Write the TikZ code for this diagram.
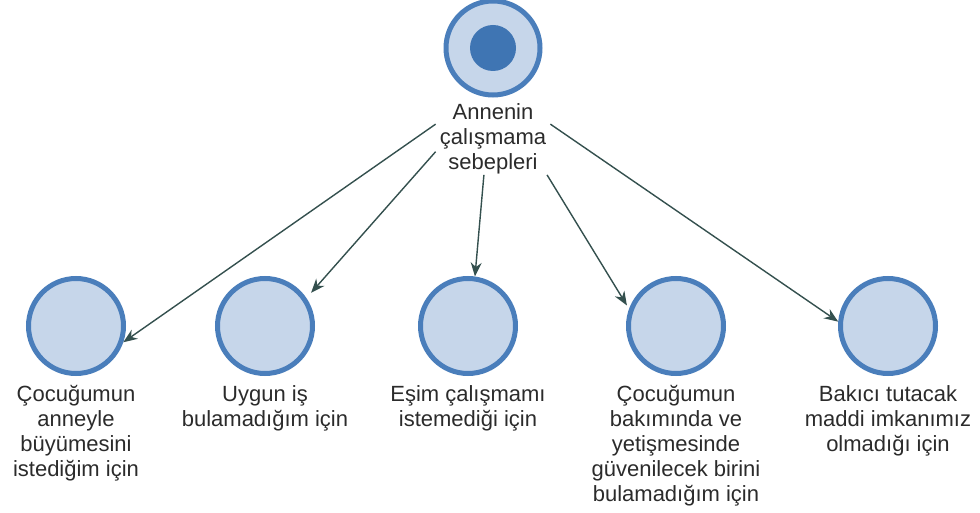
\documentclass[tikz,border=0pt]{standalone}
\usepackage{fontspec}
\setmainfont{Liberation Sans}
\usetikzlibrary{arrows.meta}
\definecolor{ringblue}{HTML}{4A7EBB}
\definecolor{fillblue}{HTML}{C6D6EA}
\definecolor{dotblue}{HTML}{3F75B3}
\definecolor{arrowcol}{HTML}{34504E}
\definecolor{txtcol}{HTML}{2B2B2B}
\tikzset{
  bubble/.style={circle, draw=ringblue, fill=fillblue, line width=5pt, minimum size=95pt, inner sep=0pt},
  dot/.style={circle, fill=dotblue, minimum size=46pt, inner sep=0pt},
  lbl/.style={align=center, anchor=north, text=txtcol, inner xsep=4pt, inner ysep=1pt,
    font=\fontsize{22}{25}\selectfont},
  conn/.style={draw=arrowcol, line width=1.4pt, -{Stealth[length=14pt, width=11pt, inset=4.5pt]}}
}
\begin{document}
\begin{tikzpicture}[x=1pt, y=-1pt]
\useasboundingbox (0,0) rectangle (980,513);
% top
\node[bubble, minimum size=94pt] (top) at (493,48) {};
\node[dot] (topdot) at (493,48) {};
\node[lbl] (toptext) at (493,102) {Annenin\\çalışmama\\sebepleri};
% bottom circles
\node[bubble] (c1) at (76,326) {};
\node[bubble] (c2) at (265,326) {};
\node[bubble] (c3) at (468,326) {};
\node[bubble] (c4) at (676,326) {};
\node[bubble] (c5) at (888,326) {};
% bottom labels
\node[lbl] (t1) at (76,384) {Çocuğumun\\anneyle\\büyümesini\\istediğim için};
\node[lbl] (t2) at (265,384) {Uygun iş\\bulamadığım için};
\node[lbl] (t3) at (468,384) {Eşim çalışmamı\\istemediği için};
\node[lbl] (t4) at (676,384) {Çocuğumun\\bakımında ve\\yetişmesinde\\güvenilecek birini\\bulamadığım için};
\node[lbl] (t5) at (888,384) {Bakıcı tutacak\\maddi imkanımız\\olmadığı için};
% connectors
\draw[conn] (toptext.166) -- (c1.-19);
\draw[conn, shorten >=7pt] (toptext.193) -- (c2.34);
\draw[conn] (toptext.256) -- (c3.82);
\draw[conn, shorten >=4pt] (toptext.-34.5) -- (c4.160);
\draw[conn] (toptext.14) -- (c5.175);
\end{tikzpicture}
\end{document}
